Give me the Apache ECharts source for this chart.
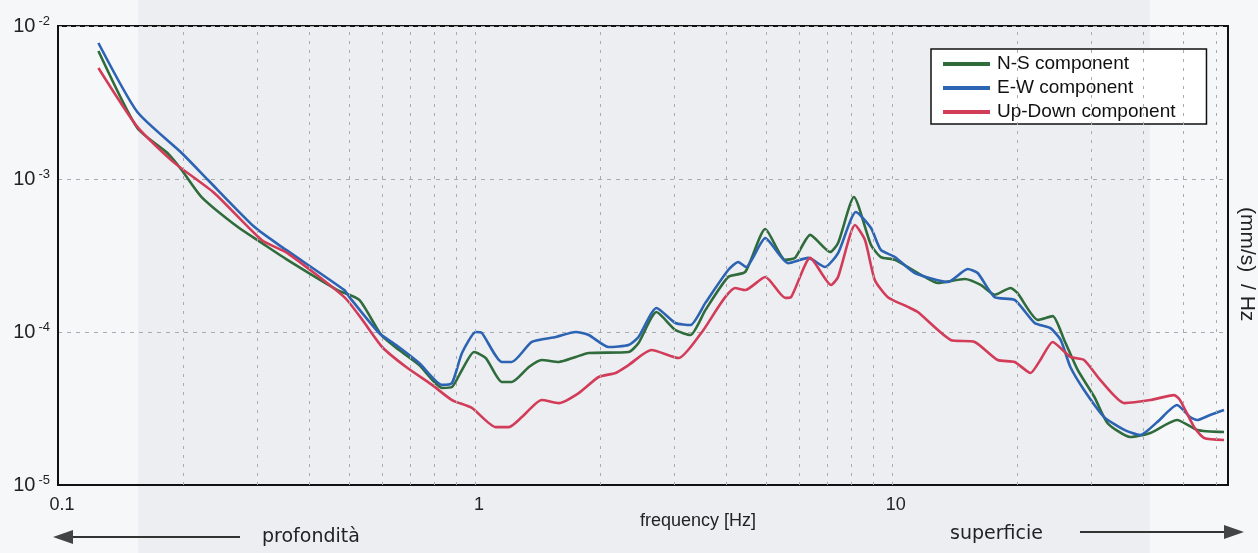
<!DOCTYPE html>
<html>
<head>
<meta charset="utf-8">
<script src="https://cdn.jsdelivr.net/npm/echarts@6/dist/echarts.min.js"></script>
<style>
  html, body { margin: 0; padding: 0; background: #f6f7f9; }
  #spectrum { width: 1258px; height: 553px; }
</style>
</head>
<body>
<div id="spectrum"></div>
<script>
// N-S component
const nsFreq = [0.125, 0.155, 0.183, 0.198, 0.221, 0.270, 0.308, 0.355, 0.468, 0.528,
  0.596, 0.658, 0.735, 0.834, 0.881, 0.931, 0.995, 1.062, 1.16, 1.226,
  1.347, 1.446, 1.589, 1.744, 1.874, 2.336, 2.468, 2.725, 3.026, 3.287,
  3.57, 4.05, 4.45, 4.97, 5.55, 5.86, 6.37, 7.11, 7.43, 8.11,
  8.91, 9.41, 10.17, 11.99, 12.88, 14.95, 16.33, 17.64, 19.26, 20.0,
  22.4, 24.3, 25.9, 27.9, 30.6, 32.9, 37.3, 41.7, 48.3, 54.0, 62.6];
const nsAmp = [6.87e-3, 2.15e-3, 1.48e-3, 1.145e-3, 7.62e-4, 4.85e-4, 3.82e-4, 2.96e-4, 1.88e-4, 1.62e-4,
  9.56e-5, 7.62e-5, 6.08e-5, 4.31e-5, 4.37e-5, 5.65e-5, 7.40e-5, 6.76e-5, 4.71e-5, 4.71e-5,
  5.90e-5, 6.56e-5, 6.37e-5, 6.87e-5, 7.29e-5, 7.40e-5, 8.47e-5, 1.35e-4, 1.03e-4, 9.56e-5,
  1.39e-4, 2.29e-4, 2.47e-4, 4.71e-4, 2.96e-4, 3.05e-4, 4.31e-4, 3.33e-4, 3.82e-4, 7.62e-4,
  3.70e-4, 3.09e-4, 2.96e-4, 2.29e-4, 2.09e-4, 2.22e-4, 2.03e-4, 1.75e-4, 1.94e-4, 1.80e-4,
  1.20e-4, 1.27e-4, 8.87e-5, 5.65e-5, 3.76e-5, 2.54e-5, 2.06e-5, 2.19e-5, 2.66e-5, 2.29e-5, 2.22e-5];

// E-W component
const ewFreq = [0.125, 0.155, 0.198, 0.229, 0.296, 0.344, 0.486, 0.50, 0.589, 0.647,
  0.735, 0.834, 0.881, 0.931, 1.005, 1.039, 1.16, 1.226, 1.369, 1.563,
  1.744, 1.874, 2.092, 2.336, 2.468, 2.725, 3.026, 3.287, 3.57, 4.05,
  4.28, 4.47, 4.97, 5.64, 6.30, 6.91, 7.43, 8.20, 8.91, 9.41,
  10.17, 11.35, 13.61, 15.2, 16.06, 17.64, 19.7, 22.0, 24.0, 25.4,
  26.8, 28.9, 32.3, 36.1, 39.4, 43.3, 48.3, 51.9, 54.0, 58.0, 62.6];
const ewAmp = [7.74e-3, 2.74e-3, 1.48e-3, 9.85e-4, 4.85e-4, 3.60e-4, 1.88e-4, 1.69e-4, 9.85e-5, 8.22e-5,
  6.27e-5, 4.51e-5, 4.64e-5, 7.29e-5, 1.0e-4, 9.85e-5, 6.37e-5, 6.37e-5, 8.61e-5, 9.27e-5,
  1.0e-4, 9.56e-5, 7.98e-5, 8.22e-5, 9.27e-5, 1.435e-4, 1.145e-4, 1.11e-4, 1.55e-4, 2.54e-4,
  2.87e-4, 2.66e-4, 4.11e-4, 2.82e-4, 3.05e-4, 2.66e-4, 3.28e-4, 6.08e-4, 4.78e-4, 3.44e-4,
  3.09e-4, 2.43e-4, 2.12e-4, 2.58e-4, 2.43e-4, 1.69e-4, 1.62e-4, 1.145e-4, 1.06e-4, 8.87e-5,
  5.90e-5, 4.18e-5, 2.78e-5, 2.29e-5, 2.12e-5, 2.58e-5, 3.33e-5, 2.78e-5, 2.66e-5, 2.87e-5, 3.09e-5];

// Up-Down component
const udFreq = [0.125, 0.155, 0.1905, 0.237, 0.308, 0.355, 0.486, 0.537, 0.599, 0.684,
  0.789, 0.881, 0.983, 1.122, 1.206, 1.296, 1.446, 1.589, 1.774, 1.981,
  2.175, 2.336, 2.65, 3.08, 3.49, 4.21, 4.45, 4.97, 5.55, 5.73,
  6.37, 7.15, 7.43, 8.16, 8.62, 9.10, 9.78, 10.92, 11.54, 13.84,
  15.8, 17.94, 19.7, 21.5, 22.7, 24.3, 26.8, 28.9, 31.6, 36.1,
  41.7, 47.5, 49.1, 53.1, 56.1, 62.6];
const udAmp = [5.31e-3, 2.19e-3, 1.27e-3, 8.1e-4, 3.99e-4, 3.28e-4, 1.69e-4, 1.20e-4, 7.98e-5, 5.90e-5,
  4.51e-5, 3.59e-5, 3.19e-5, 2.39e-5, 2.39e-5, 2.78e-5, 3.59e-5, 3.43e-5, 3.99e-5, 5.08e-5,
  5.40e-5, 6.08e-5, 7.62e-5, 6.76e-5, 9.85e-5, 1.94e-4, 1.88e-4, 2.29e-4, 1.67e-4, 1.69e-4,
  3.05e-4, 2.03e-4, 2.29e-4, 5.0e-4, 3.99e-4, 2.19e-4, 1.69e-4, 1.46e-4, 1.35e-4, 8.87e-5,
  8.61e-5, 6.56e-5, 6.37e-5, 5.40e-5, 6.56e-5, 8.61e-5, 6.87e-5, 6.56e-5, 4.86e-5, 3.43e-5,
  3.59e-5, 3.87e-5, 3.59e-5, 2.39e-5, 2.03e-5, 1.97e-5];

// vertical grid lines (frequency)
const gridFreqs = [0.2, 0.3, 0.4, 0.5, 0.6, 0.7, 0.8, 0.9, 1,
  2, 3, 4, 5, 6, 7, 8, 9, 10, 20, 30, 40, 50, 60];

const seriesNames = ['N-S component', 'E-W component', 'Up-Down component'];
const seriesColors = ['#2f6b3b', '#2c63b3', '#d23c59'];

const zip = (f, a) => f.map((v, i) => [v, a[i]]);
const isPow10 = v => Math.abs(Math.log10(v) - Math.round(Math.log10(v))) < 1e-6;

const chart = echarts.init(document.getElementById('spectrum'));

chart.setOption({
  animation: false,
  backgroundColor: '#f6f7f9',
  textStyle: { fontFamily: 'Liberation Sans, Arial, sans-serif' },
  grid: {
    left: 58, top: 26, right: 30, bottom: 68,
    show: true, borderColor: '#111', borderWidth: 2,
    backgroundColor: 'transparent',
  },
  legend: {
    data: seriesNames,
    orient: 'vertical',
    left: 931, top: 49,
    padding: [3, 31, 0, 12],
    itemGap: 0,
    itemWidth: 47, itemHeight: 4,
    icon: 'rect',
    backgroundColor: '#fff',
    borderColor: '#111', borderWidth: 1.5,
    textStyle: { fontSize: 19, color: '#111', lineHeight: 24, padding: [0, 0, 0, 2] },
  },
  xAxis: {
    type: 'log', logBase: 10, min: 0.1, max: 64,
    axisLine: { show: true, lineStyle: { color: '#111', width: 2 } },
    axisTick: { show: false },
    splitLine: { show: false },
    axisLabel: {
      fontSize: 18, color: '#222', margin: 11, padding: [0, 0, 0, 8],
      showMinLabel: true, showMaxLabel: false,
      formatter: v => (isPow10(v) ? String(+v.toPrecision(3)) : ''),
    },
  },
  yAxis: {
    type: 'log', logBase: 10, min: 1e-5, max: 1e-2,
    axisLine: { show: true, lineStyle: { color: '#111', width: 2 } },
    axisTick: { show: false },
    splitLine: { show: true, lineStyle: { color: '#a9abb0', type: [4, 5], width: 1 } },
    axisLabel: {
      margin: 8, color: '#222',
      showMinLabel: true, showMaxLabel: true,
      formatter: v => '{b|10}{s|' + Math.round(Math.log10(v)) + '}',
      rich: {
        b: { fontSize: 20, lineHeight: 22, color: '#222' },
        s: { fontSize: 13, lineHeight: 13, verticalAlign: 'top', color: '#222', padding: [0, 0, 0, 3] },
      },
    },
  },
  graphic: [
    // scanned grey band
    { type: 'rect', z: -10, silent: true, shape: { x: 138, y: 0, width: 1012, height: 553 }, style: { fill: '#eceef2' } },
    // bottom annotations
    { type: 'line', shape: { x1: 70, y1: 537, x2: 240, y2: 537 }, style: { stroke: '#333', lineWidth: 2 } },
    { type: 'polygon', shape: { points: [[53, 537], [73, 530], [73, 544]] }, style: { fill: '#444' } },
    { type: 'text', left: 262, top: 528, style: { text: 'profondità', fontSize: 19, fontFamily: 'DejaVu Sans', fill: '#222' } },
    { type: 'text', left: 950, top: 525, style: { text: 'superficie', fontSize: 19, fontFamily: 'DejaVu Sans', fill: '#222' } },
    { type: 'line', shape: { x1: 1080, y1: 532, x2: 1228, y2: 532 }, style: { stroke: '#333', lineWidth: 2 } },
    { type: 'polygon', shape: { points: [[1244, 532], [1224, 525], [1224, 539]] }, style: { fill: '#444' } },
    { type: 'text', left: 640, top: 512, style: { text: 'frequency [Hz]', fontSize: 18, fill: '#222', fontFamily: 'Liberation Sans' } },
    {
      type: 'text', x: 1257, y: 207, rotation: -Math.PI / 2,
      style: { text: '(mm/s)  / Hz', fontSize: 21, fill: '#222', fontFamily: 'Liberation Sans' },
    },
  ],
  series: [
    {
      name: 'grid', type: 'line', data: [], silent: true,
      markLine: {
        silent: true, symbol: 'none', animation: false,
        label: { show: false },
        lineStyle: { color: '#a9abb0', type: [3, 6], width: 1 },
        data: gridFreqs.map(f => ({ xAxis: f })),
      },
    },
    {
      name: seriesNames[0], type: 'line', showSymbol: false, smooth: 0.2,
      color: seriesColors[0], lineStyle: { width: 2.6 },
      data: zip(nsFreq, nsAmp),
    },
    {
      name: seriesNames[1], type: 'line', showSymbol: false, smooth: 0.2,
      color: seriesColors[1], lineStyle: { width: 2.6 },
      data: zip(ewFreq, ewAmp),
    },
    {
      name: seriesNames[2], type: 'line', showSymbol: false, smooth: 0.2,
      color: seriesColors[2], lineStyle: { width: 2.6 },
      data: zip(udFreq, udAmp),
    },
  ],
});
</script>
</body>
</html>
